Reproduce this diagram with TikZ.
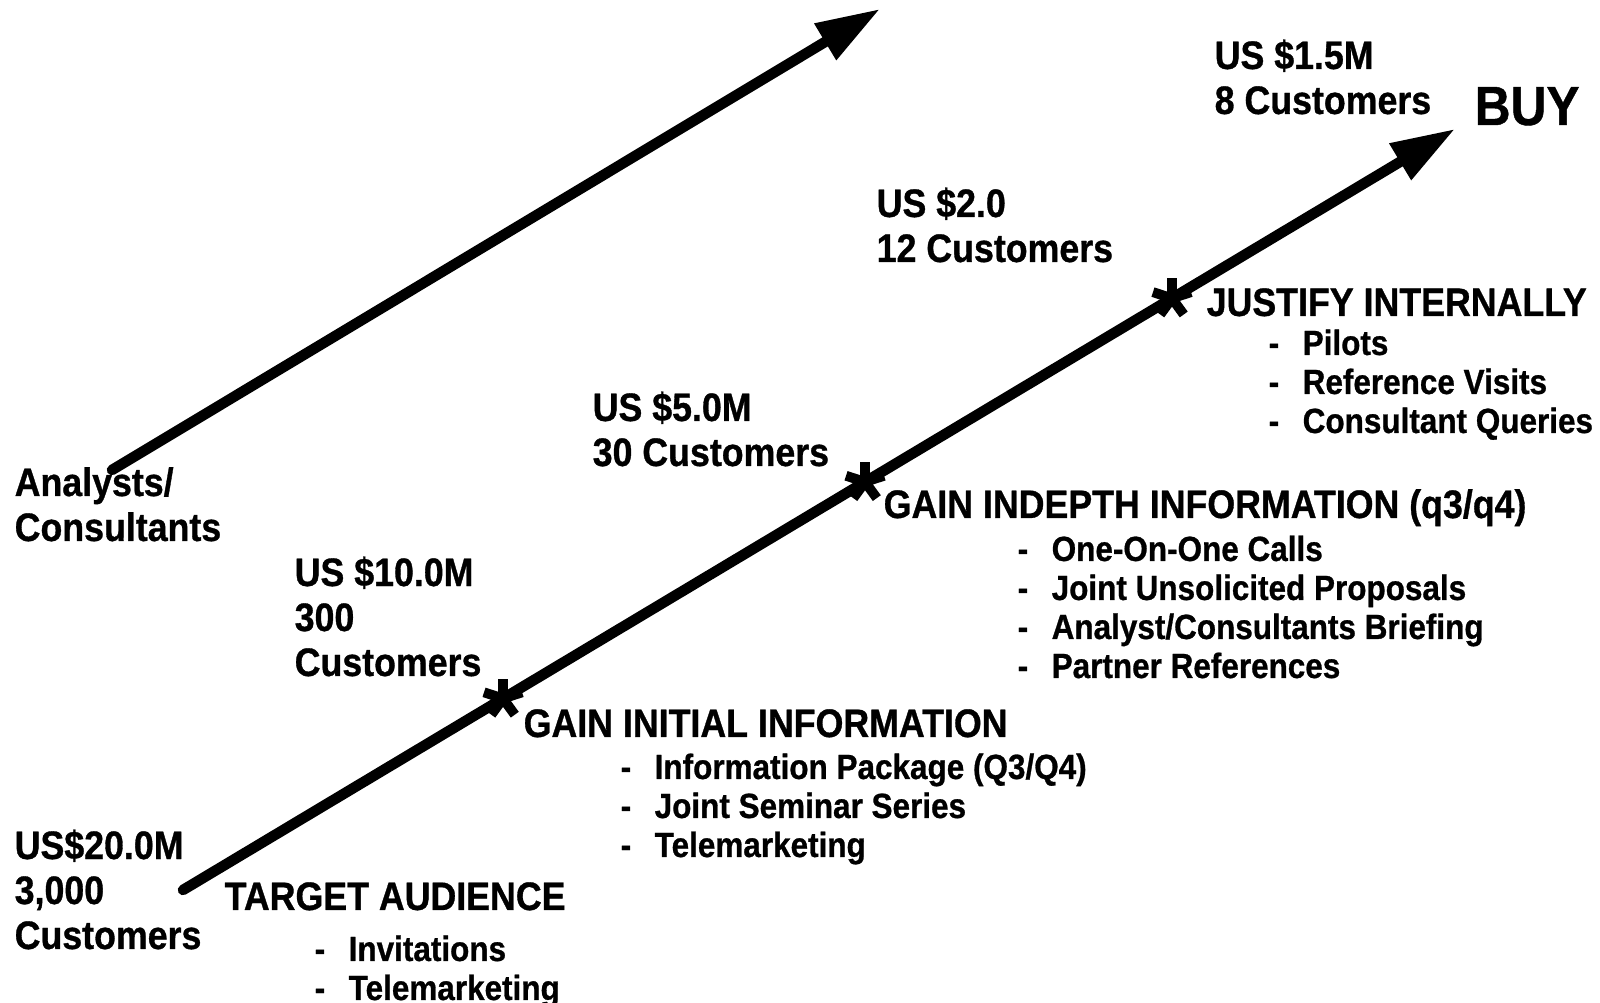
\documentclass[tikz,border=0pt]{standalone}
\usepackage{tkz-euclide}
\usepackage{fontspec}
\setmainfont{Liberation Sans}[FakeStretch=0.9,BoldFeatures={FakeBold=0.8}]
\usetikzlibrary{arrows.meta}

\tikzset{
    lbl/.style={anchor=base west, inner sep=0pt, align=left,
        font=\fontsize{11.3}{12.8}\selectfont\bfseries},
    lst/.style={lbl, font=\fontsize{9.95}{11.1}\selectfont\bfseries},
    arm/.style={line width=2.8pt},
}
\newcommand{\itm}[1]{\makebox[3.4mm][l]{-}#1}

\begin{document}
\begin{tikzpicture}[scale=1]
    \useasboundingbox (0,0) rectangle (16,10.03);
    \tkzDefPoints{1.83/1.13/A,14.55/8.74/B,1.12/5.33/C,8.80/9.94/D}
    \tkzDrawSegments[line width=3pt,-{Triangle[length=6.4mm,width=4mm]}](A,B C,D)
    \tkzDefPointOnLine[pos=0.2516](A,B) \tkzGetPoint{P}
    \tkzDefPointOnLine[pos=0.5362](A,B) \tkzGetPoint{Q}
    \tkzDefPointOnLine[pos=0.7775](A,B) \tkzGetPoint{R}
    \foreach \p in {P,Q,R}
        \foreach \a in {18,90,162,234,306}
            \draw[arm] (\p) -- ++(\a:0.2);
    % revenue / customers (placed on the last baseline)
    \node[lbl] (rev1) at (0.14,0.54) {US\$20.0M\\3,000\\Customers};
    \node[lbl] (rev2) at (2.94,3.27) {US \$10.0M\\300\\Customers};
    \node[lbl] (rev3) at (5.92,5.37) {US \$5.0M\\30 Customers};
    \node[lbl] (rev4) at (8.76,7.41) {US \$2.0\\12 Customers};
    \node[lbl] (rev5) at (12.14,8.89) {US \$1.5M\\8 Customers};
    \node[lbl] (anc) at (0.14,4.62) {Analysts/\\Consultants};
    \node[lbl, font=\fontsize{15.7}{18}\selectfont\bfseries] (buy) at (14.74,8.78) {BUY};
    % steps
    \node[lbl] (s1) at (2.24,0.93) {TARGET AUDIENCE};
    \node[lst] (l1) at (3.14,0.03) {\itm{Invitations}\\\itm{Telemarketing}};
    \node[lbl] (s2) at (5.23,2.66) {GAIN INITIAL INFORMATION};
    \node[lst] (l2) at (6.20,1.46) {\itm{Information Package (Q3/Q4)}\\
        \itm{Joint Seminar Series}\\\itm{Telemarketing}};
    \node[lbl] (s3) at (8.83,4.85) {GAIN INDEPTH INFORMATION (q3/q4)};
    \node[lst] (l3) at (10.17,3.25) {\itm{One-On-One Calls}\\
        \itm{Joint Unsolicited Proposals}\\\itm{Analyst/Consultants Briefing}\\
        \itm{Partner References}};
    \node[lbl] (s4) at (12.06,6.87) {JUSTIFY INTERNALLY};
    \node[lst] (l4) at (12.68,5.70) {\itm{Pilots}\\\itm{Reference Visits}\\
        \itm{Consultant Queries}};
\end{tikzpicture}
\end{document}
